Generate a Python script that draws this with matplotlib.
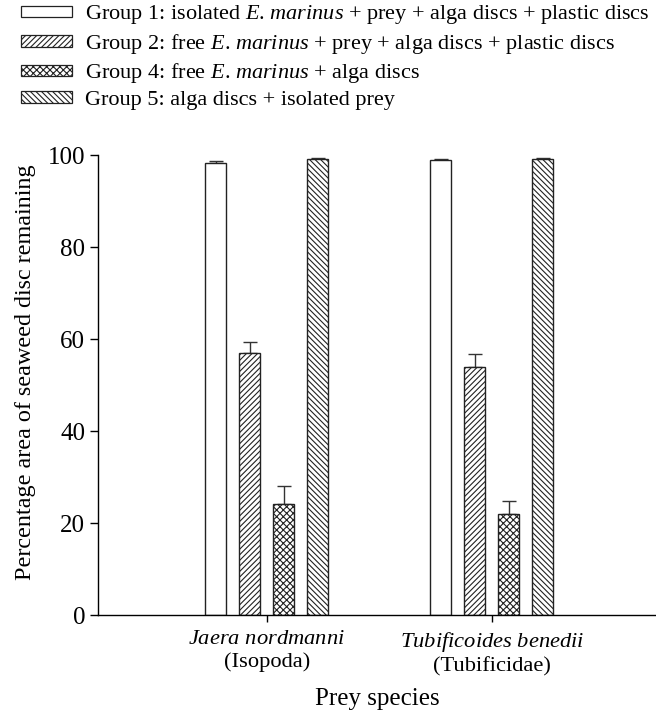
import numpy as np
import matplotlib
matplotlib.use("Agg")
import matplotlib.pyplot as plt
from matplotlib.patches import Patch

plt.rcParams['font.family'] = ['Liberation Serif', 'DejaVu Serif']
plt.rcParams['mathtext.fontset'] = 'custom'
plt.rcParams['mathtext.rm'] = 'Liberation Serif'
plt.rcParams['mathtext.it'] = 'Liberation Serif:italic'
plt.rcParams['hatch.linewidth'] = 0.8

# 데이터
species = [r"$\it{Jaera}$ $\it{nordmanni}$" + "\n(Isopoda)",
           r"$\it{Tubificoides}$ $\it{benedii}$" + "\n(Tubificidae)"]
groups = [r"Group 1: isolated $\it{E}$. $\it{marinus}$ + prey + alga discs + plastic discs",
          r"Group 2: free $\it{E}$. $\it{marinus}$ + prey + alga discs + plastic discs",
          r"Group 4: free $\it{E}$. $\it{marinus}$ + alga discs",
          "Group 5: alga discs + isolated prey"]
means = [[98.2, 98.9],
         [57.0, 54.0],
         [24.1, 21.9],
         [99.1, 99.2]]
errs = [[0.4, 0.2],
        [2.3, 2.7],
        [4.0, 2.9],
        [0.2, 0.2]]
hatches = ['', '//////', 'xxxxx', '\\\\\\\\\\\\']

fig = plt.figure(figsize=(6.56, 7.13), dpi=100)
ax = fig.add_axes([0.149, 0.1374, 0.851, 0.6452])

x = np.arange(len(species))
w = 0.093
step = 0.151
handles = []
for i in range(len(groups)):
    pos = x + (i - 1.5) * step
    ax.bar(pos, means[i], width=w, color='white', edgecolor='#222222',
           linewidth=1.0, hatch=hatches[i], zorder=2)
    ax.errorbar(pos, means[i], yerr=[np.zeros(len(species)), errs[i]],
                fmt='none', ecolor='#333333', elinewidth=1.0, capsize=5,
                capthick=1.0, zorder=1)
    handles.append(Patch(facecolor='white', edgecolor='#222222',
                         linewidth=0.9, hatch=hatches[i], label=groups[i]))

ax.set_xlim(-0.751, 1.729)
ax.set_ylim(0, 100)
ax.set_yticks([0, 20, 40, 60, 80, 100])
ax.set_xticks(x)
ax.set_xticklabels(species, fontsize=16.2, linespacing=1.2)
ax.tick_params(axis='y', labelsize=18, length=6, width=1.0, direction='out', pad=3)
ax.tick_params(axis='x', length=5, width=1.0, direction='out', pad=6)
for s in ['top', 'right']:
    ax.spines[s].set_visible(False)
for s in ['left', 'bottom']:
    ax.spines[s].set_linewidth(1.0)

ax.set_ylabel("Percentage area of seaweed disc remaining", fontsize=17.4)
ax.yaxis.set_label_coords(-0.111, 0.527)
ax.set_xlabel("Prey species", fontsize=18, labelpad=8)

fig.legend(handles=handles, loc='upper left', bbox_to_anchor=(0.027, 1.0),
           frameon=False, fontsize=16, handlelength=2.3, handleheight=0.4,
           handletextpad=0.6, labelspacing=0.25, borderaxespad=0.0, borderpad=0.15)

fig.savefig("out.png", dpi=100)
